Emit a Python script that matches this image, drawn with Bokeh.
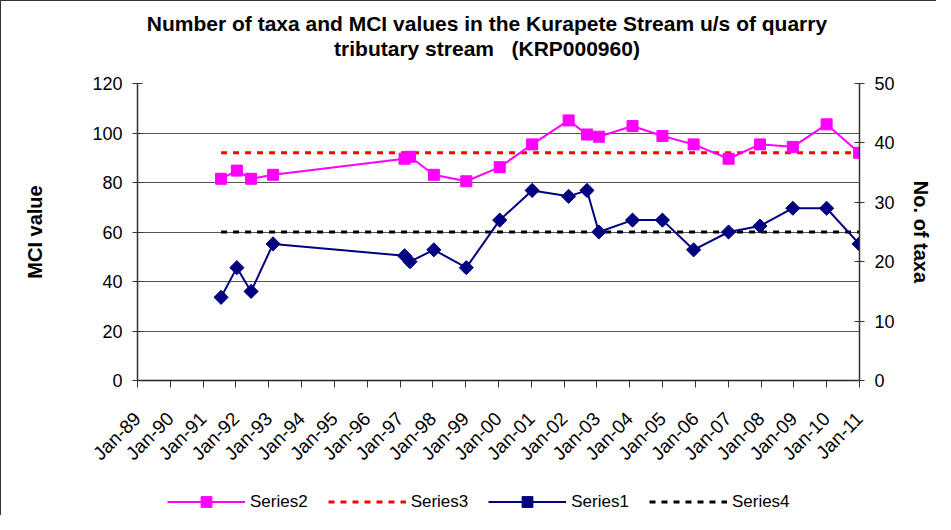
import math
import pandas as pd
from bokeh.plotting import figure
from bokeh.layouts import column
from bokeh.models import (Range1d, LinearAxis, FixedTicker, DatetimeTickFormatter,
                          Legend, LegendItem, ColumnDataSource, Label)
from bokeh.embed import file_html
from bokeh.resources import INLINE

# ---------------- data ----------------
sample_dates = ["1991-07-20", "1992-01-12", "1992-06-18", "1993-02-18", "1997-02-20",
                "1997-04-22", "1998-01-12", "1999-01-08", "2000-01-15", "2001-01-10",
                "2002-02-20", "2002-09-12", "2003-01-22", "2004-02-01", "2004-12-30",
                "2005-12-12", "2007-01-05", "2007-12-20", "2008-12-20", "2009-12-31",
                "2010-12-28"]
mci_values = [81.5, 84.8, 81.5, 83.1, 89.6, 90.4, 83.1, 80.5, 86.2, 95.4,
              105.1, 99.4, 98.5, 102.8, 98.8, 95.4, 89.6, 95.4, 94.4, 103.5, 92.0]   # Series2
taxa_counts = [14, 19, 15, 23, 21, 20, 22, 19, 27, 32,
               31, 32, 25, 27, 27, 22, 25, 26, 29, 29, 23]                          # Series1
mci_median = 92      # Series3
taxa_median = 25     # Series4
year_ticks = [f"{y}-01-01" for y in range(1989, 2012)]
mci_ticks = [0, 20, 40, 60, 80, 100, 120]
taxa_ticks = [0, 10, 20, 30, 40, 50]
title_lines = ["Number of taxa and MCI values in the Kurapete Stream u/s of quarry",
               "tributary stream   (KRP000960)"]
series_names = ["Series2", "Series3", "Series1", "Series4"]

FONT = "Liberation Sans"
W = 935
FRAME_L, FRAME_R = 137, 858          # plot frame, in canvas pixels
MCI_C, MCI3_C, TAXA_C, TAXA4_C = "#ff00ff", "#ff0000", "#000080", "#000000"

dates = pd.to_datetime(sample_dates)
src = ColumnDataSource(dict(date=dates, mci=mci_values, taxa=taxa_counts))
ends = pd.to_datetime([sample_dates[0], sample_dates[-1]])
src3 = ColumnDataSource(dict(date=ends, v=[mci_median, mci_median]))
src4 = ColumnDataSource(dict(date=ends, v=[taxa_median, taxa_median]))


def bare_fig(h):
    # the column aligns this frame with the chart frame (FRAME_L..FRAME_R),
    # so x data units equal canvas pixels
    f = figure(width=W, height=h, output_backend="svg", toolbar_location=None,
               x_range=Range1d(FRAME_L, FRAME_R), y_range=Range1d(0, h),
               x_axis_location=None, y_axis_location=None, min_border=0)
    f.outline_line_color = None
    f.grid.visible = False
    f.background_fill_color = "white"
    f.border_fill_color = "white"
    return f


# ---------------- title block ----------------
TH = 70
tf = bare_fig(TH)
for txt, dy in zip(title_lines, [22, 47]):
    tf.add_layout(Label(x=486, y=TH - dy, text=txt.replace(" ", "\u00a0"),
                        text_align="center", text_baseline="middle", text_font=FONT,
                        text_font_size="21px", text_font_style="bold", text_color="black"))

# ---------------- main chart ----------------
MH = 410
p = figure(width=W, height=MH, output_backend="svg", toolbar_location=None,
           x_axis_type="datetime",
           x_range=Range1d(pd.Timestamp("1989-01-01"), pd.Timestamp("2011-01-01")),
           y_range=Range1d(0, 120),
           min_border_left=136, min_border_right=77, min_border_top=12, min_border_bottom=101)
p.outline_line_color = None
p.background_fill_color = "white"
p.border_fill_color = "white"
p.extra_y_ranges = {"taxa": Range1d(0, 50)}

xa = p.xaxis[0]
xa.ticker = FixedTicker(ticks=[pd.Timestamp(t).value // 10**6 for t in year_ticks])
xa.formatter = DatetimeTickFormatter(years="%b-%y", months="%b-%y", days="%b-%y",
                                     hours="%b-%y", minutes="%b-%y", seconds="%b-%y",
                                     milliseconds="%b-%y", microseconds="%b-%y")
xa.major_label_orientation = math.pi / 4
xa.major_label_text_font = FONT
xa.major_label_text_font_size = "19px"
xa.major_label_text_color = "black"
xa.major_label_standoff = 28
xa.major_tick_in = 0
xa.major_tick_out = 7
xa.minor_tick_in = 0
xa.minor_tick_out = 0
xa.axis_line_color = "#222222"
xa.axis_line_width = 1.5
xa.major_tick_line_color = "#333333"

ya = p.yaxis[0]
ya.ticker = FixedTicker(ticks=mci_ticks)
ya.axis_label = "MCI value"
ya.axis_label_standoff = 43
ra = LinearAxis(y_range_name="taxa", ticker=FixedTicker(ticks=taxa_ticks))
ra.axis_label = "No. of taxa"
ra.axis_label_standoff = 12
p.add_layout(ra, "right")
for ax in (ya, ra):
    ax.axis_label_text_font = FONT
    ax.axis_label_text_font_size = "20px"
    ax.axis_label_text_font_style = "bold"
    ax.axis_label_text_color = "black"
    ax.major_label_text_font = FONT
    ax.major_label_text_font_size = "18px"
    ax.major_label_text_color = "black"
    ax.major_label_standoff = 10
    ax.major_tick_in = 5
    ax.major_tick_out = 5
    ax.minor_tick_in = 0
    ax.minor_tick_out = 0
    ax.axis_line_color = "#333333"
    ax.axis_line_width = 1.5
    ax.major_tick_line_color = "#333333"

p.xgrid.grid_line_color = None
p.ygrid.ticker = FixedTicker(ticks=mci_ticks)
p.ygrid.grid_line_color = "#555555"
p.ygrid.grid_line_width = 1

p.line("date", "v", source=src3, line_color=MCI3_C, line_width=3, line_dash="6 6")
p.line("date", "v", source=src4, y_range_name="taxa", line_color=TAXA4_C,
       line_width=3, line_dash="6 6")
p.line("date", "mci", source=src, line_color=MCI_C, line_width=2)
p.scatter("date", "mci", source=src, marker="square", size=11,
          fill_color=MCI_C, line_color=MCI_C)
p.line("date", "taxa", source=src, y_range_name="taxa", line_color=TAXA_C, line_width=2)
p.scatter("date", "taxa", source=src, y_range_name="taxa", marker="square", size=10,
          angle=math.pi / 4, fill_color=TAXA_C, line_color=TAXA_C)

# ---------------- legend strip ----------------
# the same series are attached here (they fall outside this strip's ranges, so only
# their legend glyphs show)
LH = 34
lf = bare_fig(LH)
l2 = lf.line("date", "mci", source=src, line_color=MCI_C, line_width=2)
m2 = lf.scatter("date", "mci", source=src, marker="square", size=11,
                fill_color=MCI_C, line_color=MCI_C)
l3 = lf.line("date", "v", source=src3, line_color=MCI3_C, line_width=3, line_dash="6 6")
l1 = lf.line("date", "taxa", source=src, line_color=TAXA_C, line_width=2)
m1 = lf.scatter("date", "taxa", source=src, marker="square", size=10, angle=math.pi / 4,
                fill_color=TAXA_C, line_color=TAXA_C)
l4 = lf.line("date", "v", source=src4, line_color=TAXA4_C, line_width=3, line_dash="6 6")
legend = Legend(items=[LegendItem(label=series_names[0], renderers=[l2, m2]),
                       LegendItem(label=series_names[1], renderers=[l3]),
                       LegendItem(label=series_names[2], renderers=[l1, m1]),
                       LegendItem(label=series_names[3], renderers=[l4])],
                orientation="horizontal", location=(167 - FRAME_L, 0),
                label_text_font=FONT, label_text_font_size="17px", label_text_color="black",
                glyph_width=78, glyph_height=27, label_standoff=5, spacing=20,
                padding=0, margin=0, border_line_color=None, background_fill_alpha=0)
lf.add_layout(legend, "center")

layout = column(tf, p, lf, spacing=0,
                styles={"border-left": "1.5px solid #333333",
                        "border-top": "1.5px solid #333333"})

open("out.html", "w").write(file_html(layout, INLINE))
